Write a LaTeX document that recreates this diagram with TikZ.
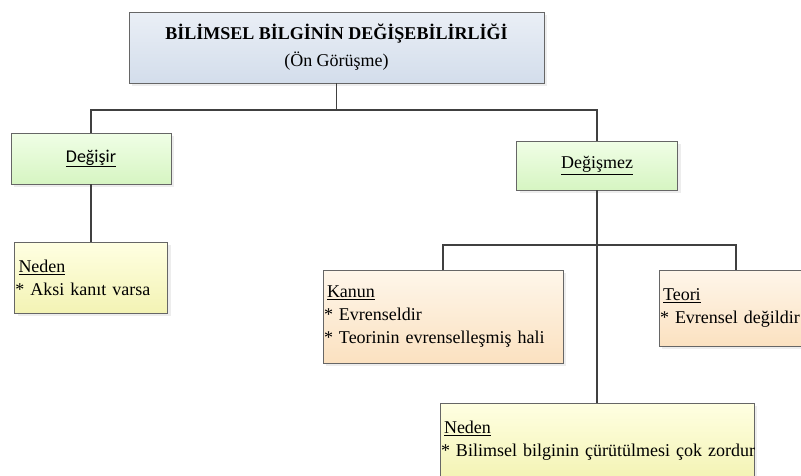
\documentclass[tikz,border=0pt]{standalone}
\usepackage{fontspec}
\setmainfont{Liberation Serif}
\newfontfamily\calibrifont{Carlito}
\usetikzlibrary{shadows}
\definecolor{kenar}{HTML}{666666}
\definecolor{hatrenk}{HTML}{404040}
\definecolor{maviust}{HTML}{EAEFF6}
\definecolor{mavialt}{HTML}{D3DDEB}
\definecolor{yesilust}{HTML}{F0FEE6}
\definecolor{yesilalt}{HTML}{D6F5C2}
\definecolor{sariust}{HTML}{FFFFE2}
\definecolor{sarialt}{HTML}{F3F3B4}
\definecolor{turuncuust}{HTML}{FEF6EA}
\definecolor{turuncualt}{HTML}{FBE1C0}
\tikzstyle{kutu} = [draw=kenar, line width=0.9pt, inner sep=1pt, outer sep=0pt,
    font=\fontsize{18}{23}\selectfont,
    drop shadow={shadow xshift=3pt, shadow yshift=-3pt, fill=black!14}
]
\tikzstyle{baslikblock} = [kutu, top color=maviust, bottom color=mavialt, align=center]
\tikzstyle{yesilblock} = [kutu, top color=yesilust, bottom color=yesilalt, align=center]
\tikzstyle{sariblock} = [kutu, top color=sariust, bottom color=sarialt, align=left]
\tikzstyle{turuncublock} = [kutu, top color=turuncuust, bottom color=turuncualt, align=left]
\tikzstyle{hat} = [draw=hatrenk, line width=1.8pt]
\newcommand{\aciklama}[2]{
    \hspace{3pt}\underline{#1}\\\relax
    #2
}
\begin{document}
\begin{tikzpicture}[x=1pt,y=1pt]
	\useasboundingbox (0,0) rectangle (801,-475);
	
	\node(baslik) at (336.5,-47.5) [baslikblock, minimum width=415pt, minimum height=71pt] {\textbf{BİLİMSEL BİLGİNİN DEĞİŞEBİLİRLİĞİ}\\[4pt](Ön Görüşme)};
	
	\node(degisir) at (91,-158.5) [yesilblock, minimum width=160pt, minimum height=51pt] {\calibrifont\underline{Değişir}};
	\node(degismez) at (597,-165.5) [yesilblock, minimum width=161pt, minimum height=49pt] {\underline{Değişmez}};
	
	\node(neden1) at (91,-277.5) [sariblock, text width=151pt, minimum height=71pt] {\aciklama{Neden}{* Aksi kanıt varsa}};
	\node(kanun) at (443,-316.5) [turuncublock, text width=238pt, minimum height=93pt] {\aciklama{Kanun}{* Evrenseldir\\\relax* Teorinin evrenselleşmiş hali}};
	\node(teori) at (736,-308) [turuncublock, text width=152pt, minimum height=76pt] {\aciklama{Teori}{* Evrensel değildir}};
	\node(neden2) at (597,-441) [sariblock, text width=312pt, minimum height=76pt] {\aciklama{Neden}{\mbox{* Bilimsel bilginin çürütülmesi çok zordur}}};
	
	\coordinate(bus1) at (336.5,-110);
	\coordinate(bus2) at (597,-245);
	\draw[hat] (baslik.south) -- (bus1);
	\draw[hat] (degisir.north) |- (bus1) -| (degismez.north);
	\draw[hat] (degisir.south) -- (neden1.north);
	\draw[hat] (kanun.north) |- (bus2) -| (teori.north);
	\draw[hat] (degismez.south) -- (neden2.north);
\end{tikzpicture}
\end{document}
